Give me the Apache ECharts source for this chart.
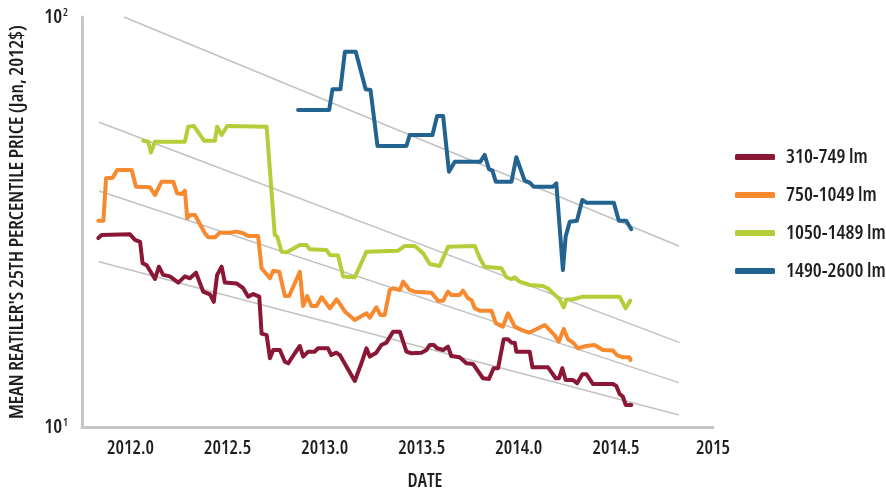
<!DOCTYPE html>
<html>
<head>
<meta charset="utf-8">
<script src="https://cdn.jsdelivr.net/npm/echarts@6/dist/echarts.min.js"></script>
<style>
  html, body { margin: 0; padding: 0; background: #fff; }
  #chart { width: 886px; height: 493px; }
</style>
</head>
<body>
<div id="chart"></div>
<script>
// Lumen bins shown in the legend
const seriesNames = ['310-749 lm', '750-1049 lm', '1050-1489 lm', '1490-2600 lm'];
const seriesColors = ['#891735', '#f7892f', '#b6cd3a', '#23638f'];

// 310-749 lm
const lowYears = [2011.834, 2011.851, 2011.997, 2012.023, 2012.049, 2012.062, 2012.083, 2012.126, 2012.146, 2012.168,
  2012.203, 2012.246, 2012.280, 2012.306, 2012.337, 2012.374, 2012.409, 2012.429, 2012.446, 2012.469,
  2012.486, 2012.546, 2012.580, 2012.606, 2012.632, 2012.663, 2012.675, 2012.701, 2012.718, 2012.735,
  2012.769, 2012.795, 2012.812, 2012.846, 2012.872, 2012.889, 2012.915, 2012.949, 2012.966, 2013.017,
  2013.034, 2013.060, 2013.078, 2013.155, 2013.189, 2013.215, 2013.232, 2013.266, 2013.292, 2013.318,
  2013.352, 2013.387, 2013.421, 2013.447, 2013.498, 2013.524, 2013.541, 2013.562, 2013.579, 2013.610,
  2013.635, 2013.652, 2013.695, 2013.730, 2013.764, 2013.815, 2013.846, 2013.870, 2013.893, 2013.922,
  2013.944, 2013.962, 2013.979, 2013.987, 2014.056, 2014.070, 2014.150, 2014.190, 2014.207, 2014.224,
  2014.241, 2014.279, 2014.300, 2014.327, 2014.348, 2014.382, 2014.485, 2014.502, 2014.519, 2014.536,
  2014.550, 2014.579];
const lowPrices = [28.9, 29.4, 29.5, 28.6, 28.3, 25.1, 24.8, 22.96, 24.6, 23.5,
  23.3, 22.5, 23.3, 23.05, 23.8, 21.4, 21.07, 20.2, 23.5, 24.6,
  22.5, 22.4, 21.8, 20.8, 21.1, 20.8, 16.9, 16.76, 14.71, 15.41,
  15.41, 14.43, 14.3, 15.13, 15.76, 14.85, 15.27, 15.27, 15.56, 15.56,
  14.98, 15.18, 14.98, 12.95, 14.3, 15.56, 14.85, 15.18, 15.85, 16.06,
  17.08, 17.08, 15.27, 15.13, 15.18, 15.41, 15.85, 15.85, 15.56, 15.41,
  15.7, 14.9, 14.79, 14.3, 14.25, 13.15, 13.1, 13.91, 13.91, 16.37,
  16.37, 16.06, 16.06, 15.27, 15.27, 13.98, 13.98, 13.15, 13.15, 13.91,
  13.02, 13.02, 12.78, 13.45, 13.45, 12.73, 12.73, 12.59, 12.04, 11.86,
  11.32, 11.32];

// 750-1049 lm
const midYears = [2011.834, 2011.860, 2011.874, 2011.908, 2011.932, 2012.006, 2012.028, 2012.100, 2012.126, 2012.160,
  2012.220, 2012.240, 2012.263, 2012.280, 2012.292, 2012.306, 2012.332, 2012.383, 2012.400, 2012.435,
  2012.460, 2012.512, 2012.546, 2012.580, 2012.606, 2012.657, 2012.675, 2012.718, 2012.735, 2012.766,
  2012.795, 2012.817, 2012.872, 2012.889, 2012.910, 2012.932, 2012.958, 2012.984, 2013.027, 2013.062,
  2013.105, 2013.155, 2013.215, 2013.232, 2013.266, 2013.287, 2013.309, 2013.335, 2013.352, 2013.387,
  2013.404, 2013.438, 2013.464, 2013.550, 2013.584, 2013.610, 2013.635, 2013.652, 2013.695, 2013.712,
  2013.738, 2013.756, 2013.773, 2013.799, 2013.859, 2013.881, 2013.918, 2013.944, 2013.979, 2014.013,
  2014.052, 2014.090, 2014.133, 2014.150, 2014.184, 2014.206, 2014.231, 2014.253, 2014.279, 2014.304,
  2014.348, 2014.390, 2014.433, 2014.485, 2014.505, 2014.536, 2014.570, 2014.575];
const midPrices = [31.86, 31.86, 40.43, 40.57, 42.37, 42.37, 38.56, 38.43, 36.8, 39.66,
  39.66, 37.15, 37.0, 37.7, 32.3, 32.89, 32.89, 29.69, 29.02, 29.02,
  29.79, 29.79, 29.96, 29.69, 29.24, 29.24, 24.38, 23.05, 24.06, 23.92,
  20.87, 20.87, 23.92, 19.73, 20.87, 19.73, 19.73, 20.72, 19.48, 20.49,
  19.11, 18.24, 18.94, 18.48, 19.59, 18.76, 18.76, 21.59, 21.79, 21.59,
  22.62, 21.59, 21.38, 21.26, 20.33, 20.33, 21.38, 20.99, 20.99, 21.5,
  20.6, 20.41, 19.48, 19.22, 19.22, 17.91, 17.57, 18.94, 17.57, 17.25,
  16.98, 17.31, 17.74, 17.41, 16.76, 16.15, 17.34, 16.37, 16.06, 15.56,
  15.76, 15.85, 15.41, 15.36, 14.98, 14.79, 14.79, 14.57];

// 1050-1489 lm
const highYears = [2012.065, 2012.091, 2012.105, 2012.126, 2012.280, 2012.297, 2012.326, 2012.378, 2012.435, 2012.446,
  2012.469, 2012.498, 2012.701, 2012.743, 2012.755, 2012.778, 2012.804, 2012.872, 2012.906, 2012.923,
  2013.009, 2013.027, 2013.069, 2013.095, 2013.155, 2013.215, 2013.378, 2013.412, 2013.464, 2013.507,
  2013.541, 2013.592, 2013.635, 2013.773, 2013.799, 2013.824, 2013.910, 2013.936, 2013.962, 2013.979,
  2014.004, 2014.056, 2014.124, 2014.155, 2014.176, 2014.210, 2014.231, 2014.245, 2014.279, 2014.330,
  2014.519, 2014.550, 2014.574];
const highPrices = [49.93, 49.65, 46.69, 49.65, 49.65, 54.02, 54.23, 49.93, 49.93, 54.02,
  51.54, 54.23, 54.02, 29.4, 29.2, 26.77, 26.68, 27.79, 27.79, 27.13,
  27.02, 26.27, 26.2, 23.3, 23.19, 26.77, 26.92, 27.64, 27.64, 26.53,
  24.98, 24.7, 27.5, 27.64, 25.79, 24.6, 24.38, 23.19, 22.93, 23.19,
  22.62, 22.2, 22.07, 21.7, 21.19, 20.49, 19.59, 20.45, 20.49, 20.79,
  20.79, 19.48, 20.33];

// 1490-2600 lm
const topYears = [2012.863, 2013.023, 2013.040, 2013.081, 2013.104, 2013.160, 2013.211, 2013.236, 2013.272, 2013.421,
  2013.438, 2013.555, 2013.579, 2013.610, 2013.640, 2013.670, 2013.802, 2013.824, 2013.846, 2013.864,
  2013.881, 2013.962, 2013.987, 2014.030, 2014.056, 2014.076, 2014.176, 2014.193, 2014.227, 2014.241,
  2014.262, 2014.299, 2014.327, 2014.348, 2014.489, 2014.515, 2014.553, 2014.579];
const topPrices = [59.32, 59.32, 66.63, 66.63, 82.3, 82.3, 66.63, 66.37, 48.46, 48.46,
  51.54, 51.54, 57.36, 57.36, 41.96, 44.38, 44.38, 46.09, 42.53, 42.2,
  39.66, 39.66, 45.49, 39.89, 39.44, 38.56, 38.56, 39.3, 24.15, 29.13,
  31.68, 31.86, 35.79, 35.25, 35.25, 31.86, 31.86, 30.36];

// Exponential decline guides: [startYear, startPrice, endYear, endPrice]
const guideLines = [
  [2011.966, 100, 2014.824, 27.64],
  [2011.838, 55.37, 2014.828, 16.06],
  [2011.838, 37.63, 2014.824, 12.83],
  [2011.838, 25.31, 2014.824, 10.70]
];

// X tick labels (every half year)
const xTickLabels = ['2012.0', '2012.5', '2013.0', '2013.5', '2014.0', '2014.5', '2015'];
const xTickValues = [2012, 2012.5, 2013, 2013.5, 2014, 2014.5, 2015];

// Condensed face: "condensed" goes into the font shorthand ahead of the size
const FONT = '"Open Sans", "Noto Sans", sans-serif';
const STRETCH = 'condensed';
const WEIGHT = 600;
const TEXT = '#1e1e1e';

function font(size) {
  return { fontFamily: FONT, fontStyle: STRETCH, fontWeight: WEIGHT, fontSize: size, color: TEXT };
}

function zip(xs, ys) { return xs.map((x, i) => [x, ys[i]]); }

const dataSets = [
  zip(lowYears, lowPrices),
  zip(midYears, midPrices),
  zip(highYears, highPrices),
  zip(topYears, topPrices)
];

const guideSeries = guideLines.map((g) => ({
  type: 'line',
  data: [[g[0], g[1]], [g[2], g[3]]],
  showSymbol: false,
  symbol: 'none',
  silent: true,
  z: 1,
  lineStyle: { color: '#c2c2c2', width: 1.5 }
}));

const priceSeries = seriesNames.map((name, i) => ({
  name: name,
  type: 'line',
  data: dataSets[i],
  showSymbol: false,
  symbol: 'none',
  z: 3,
  color: seriesColors[i],
  lineStyle: { color: seriesColors[i], width: 4, cap: 'round', join: 'round' }
}));

const chart = echarts.init(document.getElementById('chart'), null, { renderer: 'canvas' });
chart.setOption({
  animation: false,
  backgroundColor: '#ffffff',
  grid: { left: 82, right: 173, top: 17, bottom: 66, containLabel: false, outerBoundsMode: 'none' },
  legend: {
    data: seriesNames,
    orient: 'vertical',
    left: 735,
    top: 147,
    padding: 0,
    itemWidth: 40,
    itemHeight: 6,
    itemGap: 18,
    icon: 'roundRect',
    textStyle: Object.assign(font(20), { lineHeight: 20, padding: [0, 0, 0, 6] })
  },
  xAxis: {
    type: 'value',
    min: 2011.75,
    max: 2015,
    interval: 0.25,
    name: 'DATE',
    nameLocation: 'middle',
    nameGap: 45,
    nameTextStyle: Object.assign(font(19), { padding: [0, 0, 0, 55] }),
    axisLine: { show: true, lineStyle: { color: '#c6c6c6', width: 3 } },
    axisTick: { show: false },
    splitLine: { show: false },
    axisLabel: Object.assign(font(19), {
      margin: 12,
      formatter: function (v) {
        const idx = xTickValues.findIndex((t) => Math.abs(t - v) < 1e-6);
        return idx >= 0 ? xTickLabels[idx] : '';
      }
    })
  },
  yAxis: {
    type: 'log',
    logBase: 10,
    min: 10,
    max: 100,
    name: "MEAN REATILER'S 25TH PERCENTILE PRICE (Jan, 2012$)",
    nameLocation: 'middle',
    nameGap: 55,
    nameTextStyle: font(20),
    axisLine: { show: true, lineStyle: { color: '#c6c6c6', width: 3 } },
    axisTick: { show: false },
    splitLine: { show: false },
    axisLabel: {
      margin: 14,
      formatter: function (v) {
        return '{b|10}{s|' + (Math.round(Math.log10(v))) + '}';
      },
      rich: {
        b: font(20),
        s: Object.assign(font(11), { verticalAlign: 'top', padding: [0, 0, 7, 1] })
      }
    }
  },
  series: guideSeries.concat(priceSeries)
});
</script>
</body>
</html>
